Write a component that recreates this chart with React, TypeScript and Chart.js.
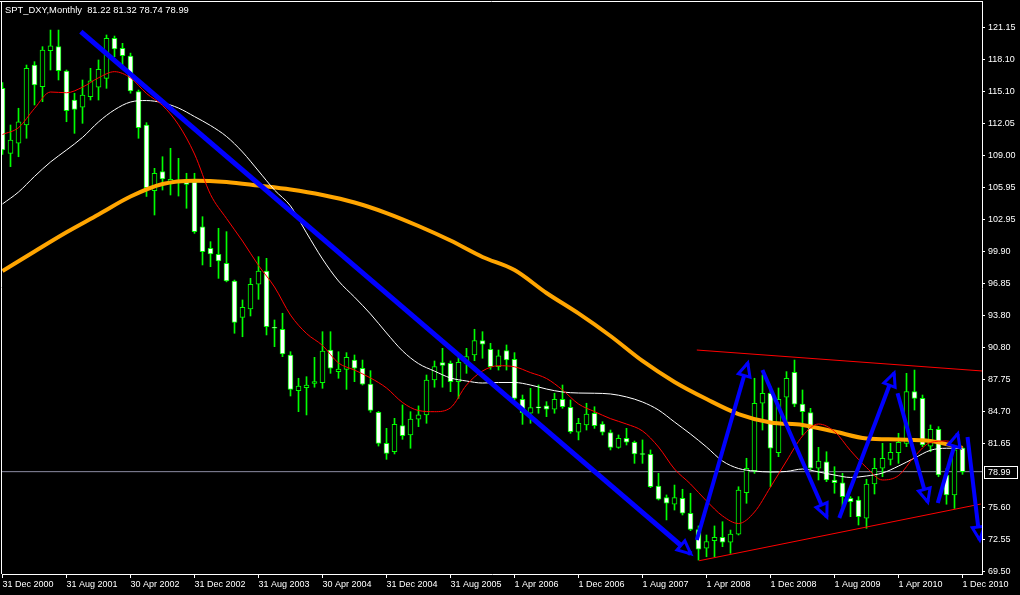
import React, { useEffect, useRef } from 'react';
import { Chart, registerables } from 'chart.js';

Chart.register(...registerables);

// ---- Data (monthly bars, index 0 = Dec 2000 ... 120 = Dec 2010) ----
const opens = [
  115.36, 109.19, 110.15, 111.88, 117.57, 115.51, 118.93, 119.31, 117.0, 114.25,
  113.56, 114.57, 115.46, 116.31, 120.11, 119.16, 118.43, 115.04, 111.88, 105.65,
  107.45, 106.28, 106.6, 106.5, 106.5, 102.23, 100.18, 99.61, 98.76, 97.08,
  93.63, 94.42, 96.77, 98.03, 92.65, 92.5, 90.06, 86.67, 86.96, 87.37,
  87.43, 90.53, 88.47, 88.7, 89.58, 88.8, 87.31, 84.62, 81.68, 80.88,
  83.35, 82.47, 83.96, 84.37, 87.69, 89.33, 89.27, 87.53, 89.27, 90.06,
  91.42, 90.6, 88.95, 90.47, 89.65, 85.86, 84.53, 85.06, 85.23, 84.91,
  85.86, 85.1, 82.73, 83.42, 84.53, 83.51, 82.69, 81.3, 82.15, 81.78,
  80.66, 80.64, 77.63, 76.52, 75.9, 76.46, 75.04, 73.5, 71.72, 72.44,
  72.76, 72.29, 73.07, 76.99, 79.08, 85.48, 86.43, 80.79, 86.05, 88.42,
  85.39, 84.59, 79.31, 79.93, 78.2, 77.94, 76.46, 76.3, 74.57, 77.82,
  79.31, 80.16, 80.79, 81.68, 86.58, 85.95, 81.42, 83.01, 78.67, 76.78,
  81.22,
];
const highs = [
  115.9, 111.88, 113.47, 117.57, 117.89, 119.31, 120.89, 120.89, 117.1, 114.89,
  116.15, 117.26, 118.05, 120.42, 120.32, 119.63, 118.7, 115.2, 112.1, 107.77,
  108.87, 109.67, 108.72, 107.3, 107.3, 103.18, 100.81, 102.08, 101.76, 97.17,
  95.28, 97.33, 99.39, 99.23, 93.38, 94.02, 90.37, 87.85, 88.0, 89.84,
  92.27, 92.27, 90.37, 90.28, 90.06, 89.58, 88.57, 84.7, 83.1, 84.05,
  85.32, 84.68, 85.23, 88.16, 89.49, 90.69, 89.49, 89.9, 90.69, 92.5,
  92.27, 91.17, 90.53, 91.01, 90.28, 86.26, 86.9, 87.21, 85.63, 86.43,
  87.21, 85.79, 84.05, 85.48, 85.15, 83.73, 82.94, 82.47, 83.1, 81.9,
  82.0, 81.05, 78.83, 76.78, 77.72, 77.32, 76.94, 73.84, 72.98, 73.84,
  74.24, 73.45, 77.56, 80.26, 87.85, 88.16, 87.06, 86.93, 88.48, 89.58,
  86.74, 85.0, 81.3, 80.88, 79.46, 78.83, 76.62, 76.62, 78.27, 80.26,
  81.68, 81.68, 82.63, 88.32, 88.63, 86.26, 83.42, 83.26, 79.3, 82.0,
  81.32,
];
const lows = [
  109.1, 107.93, 108.87, 110.62, 113.78, 114.09, 117.1, 116.15, 112.19, 111.09,
  112.04, 114.25, 114.25, 115.36, 118.36, 117.57, 114.9, 110.62, 105.1, 103.34,
  105.71, 105.24, 105.14, 103.98, 101.6, 98.6, 98.44, 97.33, 97.0, 92.12,
  91.79, 93.76, 95.34, 91.96, 90.85, 89.9, 86.17, 84.68, 84.37, 87.0,
  86.9, 88.32, 87.85, 86.8, 87.53, 87.21, 84.62, 81.42, 80.16, 80.67,
  82.06, 81.21, 83.26, 83.58, 87.0, 87.0, 86.58, 85.95, 88.32, 89.52,
  89.75, 88.7, 88.63, 88.63, 85.79, 83.48, 83.58, 84.53, 84.21, 84.53,
  85.0, 82.63, 82.0, 82.94, 83.1, 82.47, 81.05, 81.21, 81.52, 79.78,
  79.78, 77.47, 76.3, 74.41, 75.35, 74.88, 73.39, 70.6, 70.92, 70.92,
  71.87, 71.24, 72.98, 75.99, 78.83, 82.94, 77.56, 80.41, 83.26, 85.15,
  82.47, 79.15, 78.2, 78.04, 76.94, 75.67, 74.72, 73.93, 73.61, 76.87,
  78.51, 79.62, 79.78, 81.36, 84.84, 81.36, 80.88, 78.51, 75.9, 75.5,
  78.74,
];
const closes = [
  109.51, 110.46, 112.19, 117.26, 115.68, 118.99, 119.38, 117.03, 113.24, 113.37,
  114.73, 116.06, 117.17, 120.11, 119.09, 118.46, 115.11, 111.62, 105.93, 107.3,
  106.76, 106.73, 106.5, 106.25, 101.76, 99.86, 99.64, 98.98, 97.08, 93.16,
  94.58, 96.77, 98.03, 92.74, 92.6, 90.15, 86.8, 87.12, 87.21, 87.53,
  90.44, 88.8, 88.73, 89.84, 88.8, 87.28, 84.81, 81.68, 80.73, 83.48,
  82.4, 83.99, 84.37, 87.69, 88.95, 89.08, 87.53, 89.37, 89.9, 91.42,
  91.08, 88.95, 89.99, 89.58, 85.95, 84.59, 85.06, 85.04, 84.91, 85.86,
  85.15, 82.78, 83.58, 84.46, 83.35, 82.73, 81.3, 82.15, 81.78, 80.67,
  80.62, 77.56, 76.37, 75.99, 76.52, 75.04, 73.52, 71.63, 72.35, 72.76,
  72.29, 73.07, 77.25, 79.31, 85.48, 86.43, 81.21, 85.86, 87.85, 85.39,
  84.68, 79.31, 80.0, 78.2, 77.94, 76.62, 76.14, 74.72, 77.82, 79.31,
  80.26, 80.83, 81.78, 86.58, 85.95, 81.52, 83.01, 78.67, 76.78, 81.05,
  78.99,
];

const dateTickIdx = [0, 8, 16, 24, 32, 40, 48, 56, 64, 72, 80, 88, 96, 104, 112, 120];
const dateLabels = [
  '31 Dec 2000', '31 Aug 2001', '30 Apr 2002', '31 Dec 2002', '31 Aug 2003', '30 Apr 2004',
  '31 Dec 2004', '31 Aug 2005', '1 Apr 2006', '1 Dec 2006', '1 Aug 2007', '1 Apr 2008',
  '1 Dec 2008', '1 Aug 2009', '1 Apr 2010', '1 Dec 2010',
];
const priceTicks = [
  121.15, 118.1, 115.1, 112.05, 109.0, 105.95, 102.95, 99.9, 96.85, 93.8,
  90.8, 87.75, 84.7, 81.65, 78.6, 75.6, 72.55, 69.5,
];

// moving averages (red & white every 2 bars, orange every 4 bars)
const redMA = [
  110.98, 111.63, 113.45, 115.01, 114.94, 115.47, 116.36, 116.94, 116.35, 114.87,
  113.74, 111.9, 109.13, 105.29, 103.01, 100.87, 98.55, 96.51, 93.85, 92.1,
  90.96, 89.3, 88.63, 87.88, 86.93, 85.55, 84.79, 84.68, 85.05, 87.21,
  88.54, 89.04, 88.94, 88.39, 87.83, 86.74, 85.41, 84.69, 84.02, 83.51,
  82.85, 81.33, 79.24, 77.82, 76.21, 74.79, 74.07, 75.16, 77.53, 80.0,
  82.37, 83.51, 82.8, 80.99, 79.38, 78.2, 78.62, 80.43, 81.76, 81.9,
  81.28,
];
const whiteMA = [
  104.39, 105.52, 107.0, 108.37, 109.51, 110.7, 112.17, 113.32, 114.06, 114.2,
  113.99, 113.49, 112.68, 111.83, 110.79, 109.32, 107.52, 105.71, 104.2, 101.65,
  99.17, 97.08, 95.55, 93.95, 92.15, 90.45, 89.24, 88.53, 87.88, 87.59,
  87.4, 87.45, 87.45, 87.21, 86.83, 86.55, 86.45, 86.43, 86.36, 86.08,
  85.6, 84.84, 83.7, 82.56, 81.33, 80.0, 79.29, 79.05, 78.96, 79.01,
  79.24, 78.96, 78.67, 78.44, 78.58, 78.86, 79.52, 80.28, 81.02, 81.21,
  81.21,
];
const orangeMA = [
  98.03, 99.88, 101.7, 103.38, 105.09, 106.28, 106.6, 106.47, 106.13, 105.76,
  105.24, 104.53, 103.53, 102.3, 100.92, 99.36, 98.12, 95.94, 94.0, 91.86,
  89.49, 87.5, 85.88, 84.46, 83.66, 83.42, 82.8, 82.14, 82.04, 81.9,
  81.24,
];

// hand-drawn objects: [barIndexStart, priceStart, barIndexEnd, priceEnd]
const blueTrend = [9.79, 120.73, 86.04, 71.19];
const blueArrows = [
  [86.79, 72.51, 93.16, 89.3],
  [94.99, 88.63, 103.04, 74.69],
  [104.6, 74.6, 111.45, 88.35],
  [111.88, 86.43, 115.66, 76.11],
  [116.91, 76.02, 119.41, 82.6],
  [120.63, 82.28, 122.16, 72.51],
];
const channelTop = [86.79, 90.53, 122.5, 88.54];
const channelBottom = [87.08, 70.54, 122.29, 75.92];
const lastPrice = 78.99;
const titleText = 'SPT_DXY,Monthly  81.22 81.32 78.74 78.99';

const FONT = '"Liberation Sans", Arial, sans-serif';

export default function App() {
  const ref = useRef<HTMLCanvasElement | null>(null);

  useEffect(() => {
    const canvas = ref.current;
    if (!canvas) return;
    const idx = opens.map((_, i) => i);
    const seg = (s: number[]) => [
      { x: s[0], y: s[1] },
      { x: s[2], y: s[3] },
    ];
    const lineDs = (data: any[], color: string, width: number, order: number, tension = 0) => ({
      type: 'line' as const,
      data,
      borderColor: color,
      borderWidth: width,
      pointRadius: 0,
      fill: false,
      tension,
      cubicInterpolationMode: tension ? ('monotone' as const) : ('default' as const),
      order,
    });

    const framePlugin = {
      id: 'frame',
      afterDraw(chart: any) {
        const { ctx, chartArea: a, scales } = chart;
        ctx.save();
        ctx.strokeStyle = '#ffffff';
        ctx.lineWidth = 1;
        ctx.beginPath();
        ctx.moveTo(0, a.top - 0.5);
        ctx.lineTo(a.right + 1, a.top - 0.5);
        ctx.moveTo(a.left - 0.5, a.top - 0.5);
        ctx.lineTo(a.left - 0.5, a.bottom);
        ctx.stroke();
        // title
        ctx.fillStyle = '#ffffff';
        ctx.font = '9.4px ' + FONT;
        ctx.textBaseline = 'middle';
        ctx.textAlign = 'left';
        ctx.fillText(titleText, 5, 10);
        // current price label on the axis
        const py = Math.round(scales.y.getPixelForValue(lastPrice));
        ctx.font = '9px ' + FONT;
        ctx.fillStyle = '#000000';
        ctx.fillRect(a.right + 1, py - 6, 40, 13);
        ctx.strokeStyle = '#ffffff';
        ctx.strokeRect(a.right + 2.5, py - 5.5, 33, 12);
        ctx.fillStyle = '#ffffff';
        ctx.fillText(lastPrice.toFixed(2), a.right + 6, py + 0.5);
        ctx.restore();
      },
    };

    const arrowPlugin = {
      id: 'arrowheads',
      afterDatasetsDraw(chart: any) {
        const { ctx, chartArea: a, scales } = chart;
        ctx.save();
        ctx.beginPath();
        ctx.rect(a.left, a.top, a.right - a.left, a.bottom - a.top);
        ctx.clip();
        [blueTrend, ...blueArrows].forEach((s) => {
          const x0 = scales.x.getPixelForValue(s[0]);
          const y0 = scales.y.getPixelForValue(s[1]);
          const x1 = scales.x.getPixelForValue(s[2]);
          const y1 = scales.y.getPixelForValue(s[3]);
          const ang = Math.atan2(y1 - y0, x1 - x0);
          const len = 13;
          const hw = 6;
          const bx = x1 - len * Math.cos(ang);
          const by = y1 - len * Math.sin(ang);
          ctx.beginPath();
          ctx.moveTo(x1, y1);
          ctx.lineTo(bx - hw * Math.sin(ang), by + hw * Math.cos(ang));
          ctx.lineTo(bx + hw * Math.sin(ang), by - hw * Math.cos(ang));
          ctx.closePath();
          ctx.fillStyle = '#000000';
          ctx.fill();
          ctx.strokeStyle = '#0000ff';
          ctx.lineWidth = 3;
          ctx.lineJoin = 'miter';
          ctx.stroke();
        });
        ctx.restore();
      },
    };

    const chart = new Chart(canvas, {
      type: 'bar',
      data: {
        datasets: [
          {
            type: 'line',
            data: [
              { x: -1, y: lastPrice },
              { x: 130, y: lastPrice },
            ],
            borderColor: '#8c8ca4',
            borderWidth: 1,
            pointRadius: 0,
            fill: false,
            order: 30,
          } as any,
          {
            type: 'bar',
            data: idx.map((i) => ({ x: i, y: [lows[i], highs[i]] })),
            backgroundColor: '#00ff00',
            borderWidth: 0,
            barThickness: 1,
            grouped: false,
            order: 20,
          } as any,
          {
            type: 'bar',
            data: idx.map((i) => ({ x: i, y: [opens[i], closes[i]] })),
            backgroundColor: idx.map((i) => (closes[i] < opens[i] ? '#ffffff' : '#000000')),
            borderColor: '#00ff00',
            borderWidth: 1,
            borderSkipped: false,
            barThickness: 5,
            minBarLength: 1,
            grouped: false,
            order: 19,
          } as any,
          lineDs(orangeMA.map((v, k) => ({ x: k * 4, y: v })), '#ffa500', 4, 12, 0.4),
          lineDs(whiteMA.map((v, k) => ({ x: k * 2, y: v })), '#ffffff', 1, 11, 0.4),
          lineDs(redMA.map((v, k) => ({ x: k * 2, y: v })), '#ff0000', 1, 10, 0.4),
          lineDs(seg(channelTop), '#ff0000', 1, 5),
          lineDs(seg(channelBottom), '#ff0000', 1, 5),
          lineDs(seg(blueTrend), '#0000ff', 5, 2),
          ...blueArrows.map((s) => lineDs(seg(s), '#0000ff', 4, 1)),
        ] as any,
      },
      options: {
        responsive: false,
        maintainAspectRatio: false,
        animation: false,
        events: [],
        layout: { padding: { top: 2, left: 2, right: 0, bottom: 0 } },
        plugins: { legend: { display: false }, tooltip: { enabled: false }, title: { display: false } },
        scales: {
          x: {
            type: 'linear',
            min: -0.0625,
            max: 122.4375,
            offset: false,
            position: 'bottom',
            grid: { display: true, offset: false, drawOnChartArea: false, drawTicks: true, tickLength: 4, color: '#ffffff', tickColor: '#ffffff' },
            border: { display: true, color: '#ffffff', width: 1 },
            ticks: {
              autoSkip: false,
              maxRotation: 0,
              minRotation: 0,
              align: 'start',
              color: '#ffffff',
              padding: 1,
              font: { family: FONT, size: 9 },
              callback: (v: any) => {
                const k = dateTickIdx.indexOf(Number(v));
                return k >= 0 ? dateLabels[k] : '';
              },
            },
            afterBuildTicks: (scale: any) => {
              scale.ticks = dateTickIdx.map((v) => ({ value: v }));
            },
            afterFit: (scale: any) => {
              scale.height = 21;
              scale.paddingLeft = 0;
              scale.paddingRight = 0;
            },
          },
          y: {
            type: 'linear',
            position: 'right',
            min: 69.28,
            max: 123.55,
            beginAtZero: false,
            grid: { display: true, drawOnChartArea: false, drawTicks: true, tickLength: 3, color: '#ffffff', tickColor: '#ffffff' },
            border: { display: true, color: '#ffffff', width: 1 },
            ticks: {
              color: '#ffffff',
              padding: 3,
              font: { family: FONT, size: 9 },
              callback: (v: any) => Number(v).toFixed(2),
            },
            afterBuildTicks: (scale: any) => {
              scale.ticks = priceTicks.map((v) => ({ value: v }));
            },
            afterFit: (scale: any) => {
              scale.width = 38;
              scale.paddingTop = 0;
              scale.paddingBottom = 0;
            },
          },
        },
      } as any,
      plugins: [arrowPlugin, framePlugin],
    });
    return () => chart.destroy();
  }, []);

  return (
    <div style={{ position: 'fixed', left: 0, top: 0, width: 1020, height: 595, background: '#000000' }}>
      <canvas ref={ref} width={1020} height={595} style={{ display: 'block', width: 1020, height: 595 }} />
    </div>
  );
}
